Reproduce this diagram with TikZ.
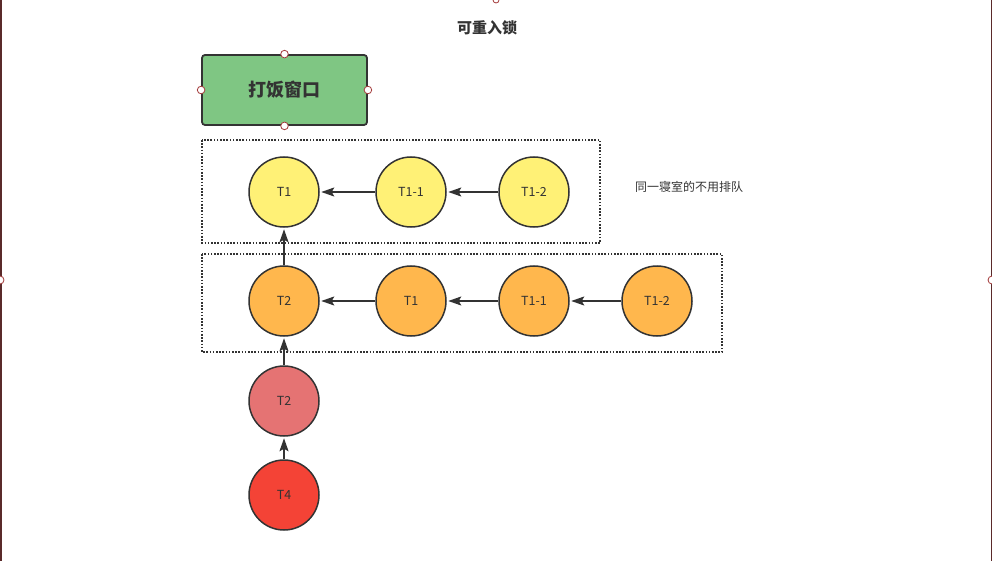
\documentclass[tikz,border=0pt]{standalone}
\usepackage{fontspec}
\setmainfont{Noto Sans CJK SC}
\usetikzlibrary{arrows.meta}

\definecolor{ink}{HTML}{333333}
\definecolor{boxgreen}{HTML}{7FC683}
\definecolor{lockyellow}{HTML}{FFF176}
\definecolor{lockorange}{HTML}{FFB74D}
\definecolor{lockpink}{HTML}{E57373}
\definecolor{lockred}{HTML}{F44336}
\definecolor{handlered}{HTML}{A33A3A}
\definecolor{frame}{HTML}{5A2A2A}

\begin{document}
\begin{tikzpicture}[
    x=1pt, y=-1pt,
    >={Stealth[length=13pt, width=9pt, inset=2.5pt]},
    line/.style   = {draw=ink, line width=1.7pt, shorten >=1.5pt},
    person/.style = {circle, draw=ink, line width=1.5pt, minimum size=70pt,
                     inner sep=0pt, text=ink, font=\fontsize{12.5}{14}\selectfont},
    window/.style = {draw=ink, line width=1.8pt, fill=boxgreen, rounded corners=3pt,
                     minimum width=165pt, minimum height=70pt, text=ink,
                     font=\fontsize{18}{21}\selectfont\bfseries},
    group/.style  = {draw=ink, line width=1.2pt, dash pattern=on 1.6pt off 1.6pt},
    handle/.style = {draw=handlered, fill=white, line width=0.8pt}
]
\useasboundingbox (0,0) rectangle (992,561);

% title
\node[text=ink, font=\fontsize{15}{18}\selectfont\bfseries] (title) at (487,28) {可重入锁};

% canteen window with its selection handles
\node[window] (win) at (284.5,90) {打饭窗口};
\foreach \a in {north, south, east, west}
    \draw[handle] (win.\a) circle (3.8);

% same-room groups
\draw[group] (202,140) rectangle (600,243);
\draw[group] (202,254) rectangle (722,352);
\node[text=ink, font=\fontsize{12}{14}\selectfont] (note) at (689,187) {同一寝室的不用排队};

% first row (being served)
\foreach \k/\x/\t in {a/284/T1, b/411/T1-1, c/534/T1-2}
    \node[person, fill=lockyellow] (y\k) at (\x,192) {\t};

% second row (waiting)
\foreach \k/\x/\t in {a/284/T2, b/411/T1, c/534/T1-1, d/657/T1-2}
    \node[person, fill=lockorange] (o\k) at (\x,301) {\t};

% queue behind
\node[person, fill=lockpink] (p) at (284,401) {T2};
\node[person, fill=lockred]  (r) at (284,495) {T4};

% connections
\draw[->, line] (yc) -- (yb);
\draw[->, line] (yb) -- (ya);
\draw[->, line] (od) -- (oc);
\draw[->, line] (oc) -- (ob);
\draw[->, line] (ob) -- (oa);
\draw[->, line] (oa) -- (ya);
\draw[->, line] (p)  -- (oa);
\draw[->, line] (r)  -- (p);

% screenshot frame edges
\draw[frame, line width=1.5pt] (0.75,0) -- (0.75,561);
\draw[frame, line width=1.5pt] (991.25,0) -- (991.25,561);
\draw[handle] (0,280) circle (4);
\draw[handle] (992,280) circle (4);
\draw[handle] (496,0) circle (3);
\end{tikzpicture}
\end{document}
